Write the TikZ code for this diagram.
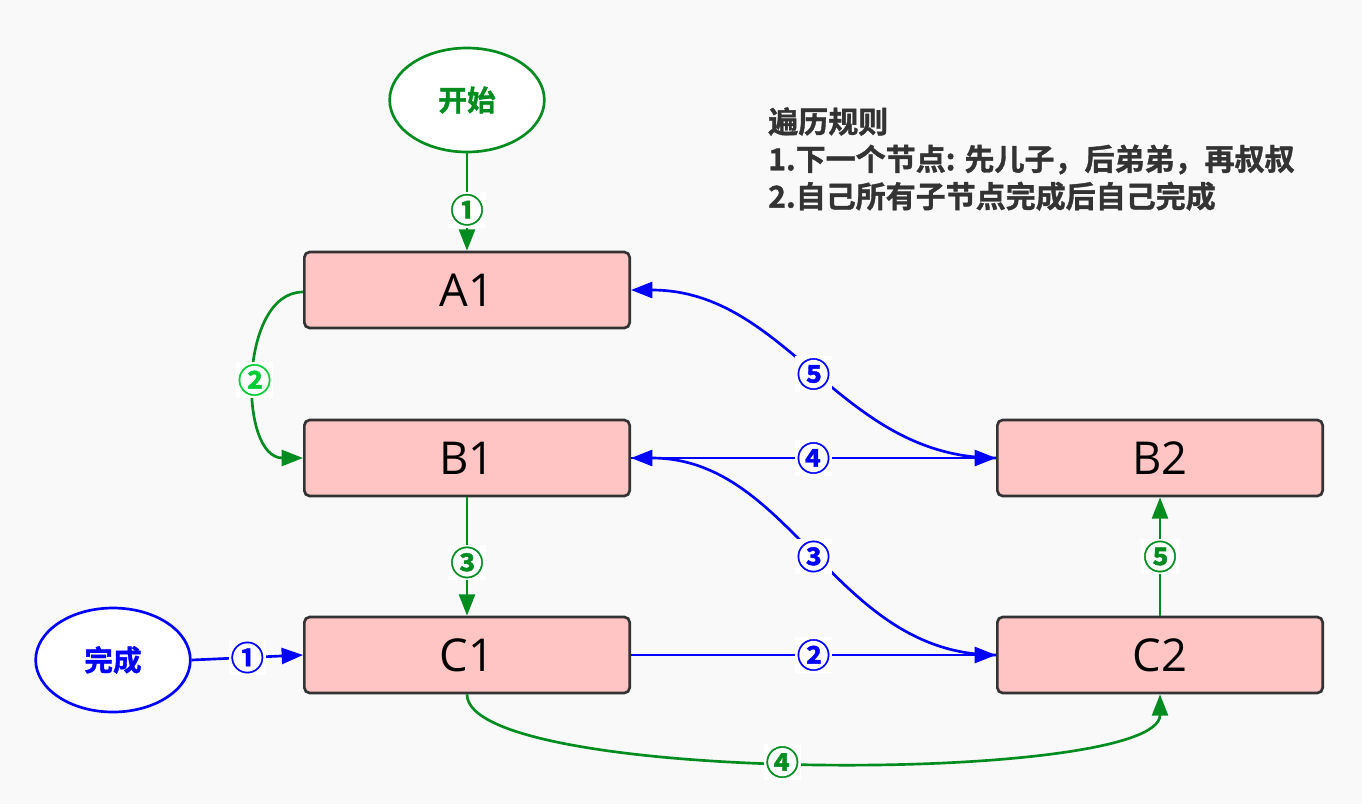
\documentclass[tikz,border=0pt]{standalone}
\usepackage{fontspec}
\setmainfont{Open Sans}
\newfontfamily\cjk{Noto Sans CJK SC}[BoldFont={Noto Sans CJK SC Bold}, BoldFeatures={FakeBold=1.2}]
\usetikzlibrary{arrows.meta,shapes.geometric}
\definecolor{bgc}{HTML}{F9F9F9}
\definecolor{gr}{HTML}{008C1E}
\definecolor{lgr}{HTML}{00CC33}
\definecolor{bl}{HTML}{0000FF}
\definecolor{pinkc}{HTML}{FFC4C4}
\definecolor{bord}{HTML}{333333}
\definecolor{txt}{HTML}{333333}
\tikzset{
  box/.style={draw=bord, fill=pinkc, line width=2pt, rounded corners=4pt,
    minimum width=244pt, minimum height=57pt, inner sep=0pt,
    font=\fontsize{34pt}{38pt}\selectfont, text=black},
  oval/.style={ellipse, fill=white, line width=2pt, minimum width=116pt,
    minimum height=78pt, inner sep=0pt, font=\cjk\bfseries\fontsize{21.5pt}{24pt}\selectfont},
  conn/.style={line width=2pt, -{Triangle[length=16pt,width=12pt]}},
  gconn/.style={conn, draw=gr},
  bconn/.style={conn, draw=bl},
  lbl/.style={fill=white, inner sep=1.5pt, font=\cjk\bfseries\fontsize{25pt}{26pt}\selectfont},
  glbl/.style={lbl, text=gr},
  lglbl/.style={lbl, text=lgr},
  blbl/.style={lbl, text=bl},
}
\begin{document}
\begin{tikzpicture}[x=0.75pt,y=-0.75pt]
\fill[bgc] (0,0) rectangle (1362,804);
\useasboundingbox (0,0) rectangle (1362,804);

\node[oval, draw=gr, text=gr] (start) at (467,100) {开始};
\node[oval, draw=bl, text=bl] (done) at (113,660) {完成};

\node[box] (A1) at (467,290) {A1};
\node[box] (B1) at (467,458) {B1};
\node[box] (C1) at (467,655) {C1};
\node[box] (B2) at (1160,458) {B2};
\node[box] (C2) at (1160,655) {C2};

\node[anchor=north west, inner sep=0pt, align=left, text=txt,
  font=\cjk\bfseries\fontsize{22.5pt}{28pt}\selectfont] (rules) at (768,107)
  {遍历规则\\1.下一个节点: 先儿子，后弟弟，再叔叔\\2.自己所有子节点完成后自己完成};

% green traversal
\draw[gconn] (start) -- node[glbl, pos=0.58] {①} (A1);
\draw[gconn] ([yshift=-1.5pt]A1.west) to[out=180,in=180,looseness=1]
  node[lglbl, pos=0.52] {②} (B1.west);
\draw[gconn] (B1) -- node[glbl, pos=0.55] {③} (C1);
\draw[gconn] (C1.south) .. controls ++(0,-68pt) and ++(0,-68pt) ..
  node[glbl, pos=0.47] {④} (C2.south);
\draw[gconn] (C2) -- node[glbl, pos=0.5] {⑤} (B2);

% blue completion
\draw[bconn] (done.east) -- node[blbl, pos=0.5] {①} (C1.west);
\draw[bconn] (C1.east) -- node[blbl, pos=0.5] {②} (C2.west);
\draw[bconn] (C2.west) to[out=180,in=0] node[blbl, pos=0.5] {③} (B1.east);
\draw[bconn] (B1.east) -- node[blbl, pos=0.5] {④} (B2.west);
\draw[bconn] (B2.west) to[out=180,in=0] node[blbl, pos=0.5] {⑤} (A1.east);
\end{tikzpicture}
\end{document}
